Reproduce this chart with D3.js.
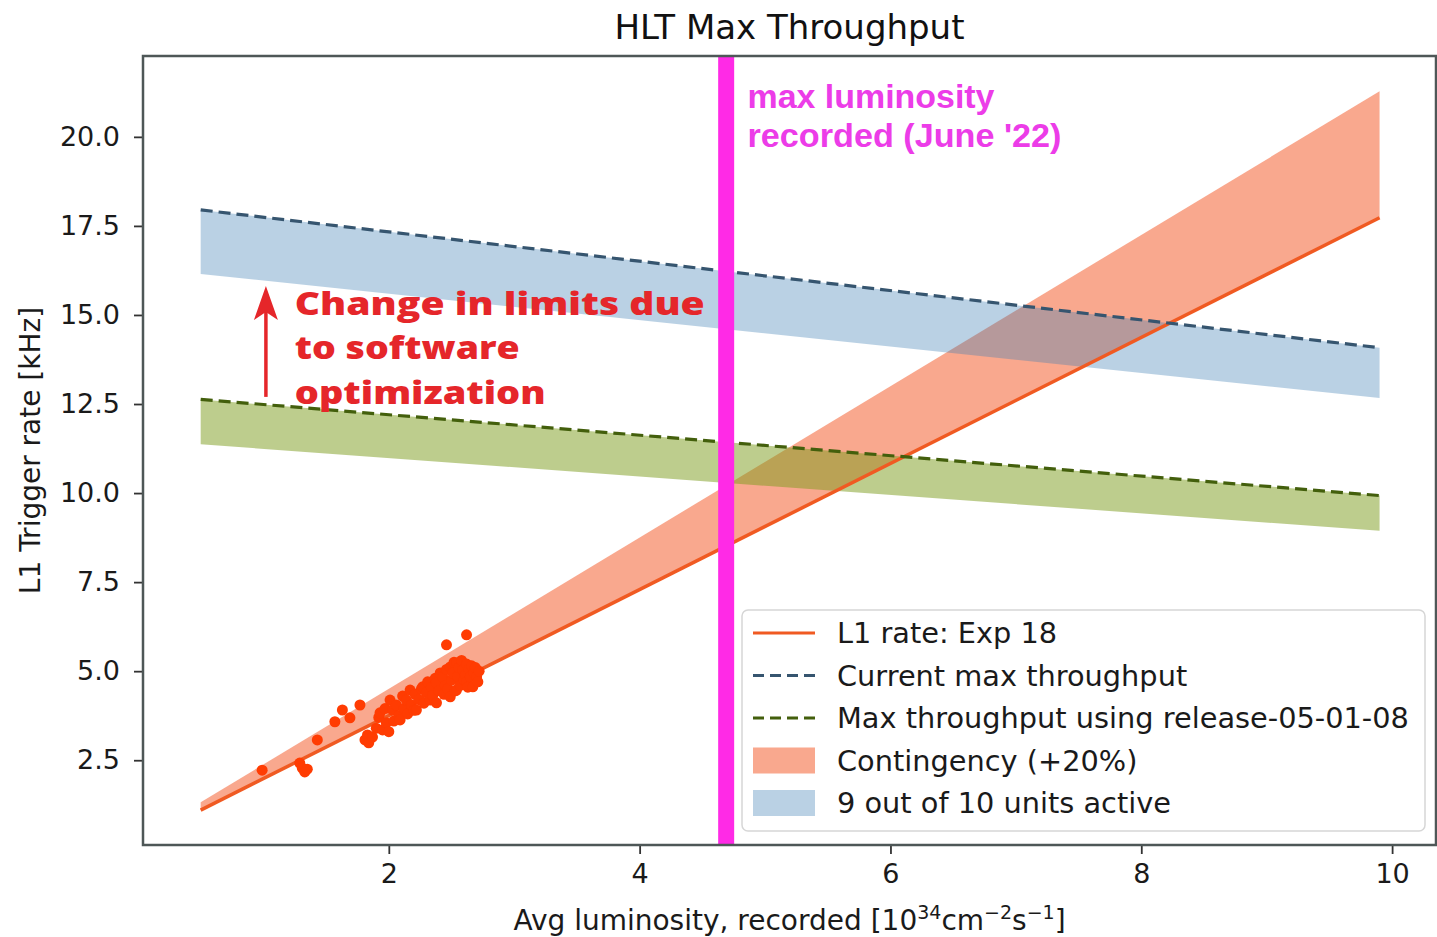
<html>
<head>
<title>HLT Max Throughput</title>
<script src="https://d3js.org/d3.v7.min.js"></script>
<style>
  body { margin: 0; background: #fff; }
  text { font-family: "DejaVu Sans", sans-serif; }
</style>
</head>
<body>
<div id="chart"></div>
<script>

// ---- data ----
var lumiRange = [0.5, 9.9];
var l1Rate = [1.1, 17.73];            // L1 rate: Exp 18
var contingencyRate = [1.32, 21.28];  // +20%
var currentMax = [17.95, 14.08];      // current max throughput
var currentMaxLow = [16.15, 12.67];   // 9 out of 10 units
var releaseMax = [12.63, 9.93];       // release-05-01-08
var releaseMaxLow = [11.37, 8.94];
var maxLumiRecorded = 4.69;

var scatterLumi = [0.99,1.29,1.31,1.33,1.35,1.43,1.57,1.63,1.69,1.77,1.81,1.83,1.84,1.87,2.46,2.62,
  1.90,1.92,1.93,1.95,1.97,1.98,2.00,2.01,2.03,2.04,2.06,2.08,2.09,2.11,2.12,2.14,2.15,2.17,2.18,2.20,
  2.21,2.22,2.24,2.26,2.27,2.28,2.30,2.31,2.33,2.34,2.35,2.37,2.38,2.38,2.40,2.41,2.43,2.44,2.45,2.46,
  2.47,2.49,2.49,2.50,2.51,2.52,2.53,2.54,2.54,2.55,2.56,2.57,2.58,2.59,2.60,2.61,2.62,2.62,2.63,2.64,
  2.65,2.66,2.67,2.68,2.69,2.70,2.71,2.72];
var scatterRate = [2.22,2.42,2.28,2.17,2.25,3.07,3.58,3.91,3.69,4.05,3.07,3.21,2.99,3.15,5.74,6.02,
  3.40,3.70,3.83,3.35,3.95,3.55,3.30,4.19,3.91,3.60,4.05,3.75,3.63,4.30,3.95,4.19,3.80,4.47,4.05,3.90,
  4.35,3.91,4.20,4.50,4.56,4.10,4.40,4.70,4.19,4.55,4.32,4.80,4.67,4.11,4.45,4.95,4.84,4.35,4.60,5.05,
  4.50,5.12,4.28,4.75,4.95,5.25,4.45,5.23,4.47,4.85,5.10,4.60,5.30,5.03,4.75,4.90,5.20,4.70,4.55,5.05,
  4.84,5.15,4.56,4.95,5.10,4.84,4.70,5.00];

var xTicks = [2, 4, 6, 8, 10];
var yTicks = [2.5, 5.0, 7.5, 10.0, 12.5, 15.0, 17.5, 20.0];
var legendLabels = ["L1 rate: Exp 18", "Current max throughput", "Max throughput using release-05-01-08",
                    "Contingency (+20%)", "9 out of 10 units active"];
var annotationLines = ["Change in limits due", "to software", "optimization"];
var lumiNoteLines = ["max luminosity", "recorded (June '22)"];

// ---- layout ----
var W = 1437, H = 937;
var margin = {top: 56, right: 1, bottom: 92, left: 143};
var width = W - margin.left - margin.right,
    height = H - margin.top - margin.bottom;

var svg = d3.select("#chart").append("svg")
  .attr("width", W)
  .attr("height", H);

var g = svg.append("g")
  .attr("transform", "translate(" + margin.left + "," + margin.top + ")");

var x = d3.scaleLinear().domain([0.04, 10.35]).range([0, width]);
var y = d3.scaleLinear().domain([0.12, 22.27]).range([height, 0]);

function pts(a) {
  return lumiRange.map(function(l, i) { return [l, a[i]]; });
}
var area = d3.area()
  .x(function(d) { return x(d[0]); })
  .y0(function(d) { return y(d[1]); })
  .y1(function(d) { return y(d[2]); });
var line = d3.line()
  .x(function(d) { return x(d[0]); })
  .y(function(d) { return y(d[1]); });

function band(lo, hi) {
  return lumiRange.map(function(l, i) { return [l, lo[i], hi[i]]; });
}

var orangeFill = "#f4511e", orangeLine = "#f05a22", dotColor = "#ff3c02";
var blueFill = "#3f7fb3", blueLine = "#36556f";
var greenFill = "#7c9c1c", greenLine = "#435f0c";

// contingency band
g.append("path")
  .attr("d", area(band(l1Rate, contingencyRate)))
  .attr("fill", orangeFill)
  .attr("fill-opacity", 0.5);

// 9 out of 10 bands
g.append("path")
  .attr("d", area(band(currentMaxLow, currentMax)))
  .attr("fill", blueFill)
  .attr("fill-opacity", 0.36);

g.append("path")
  .attr("d", area(band(releaseMaxLow, releaseMax)))
  .attr("fill", greenFill)
  .attr("fill-opacity", 0.5);

// L1 rate line
g.append("path")
  .attr("d", line(pts(l1Rate)))
  .attr("fill", "none")
  .attr("stroke", orangeLine)
  .attr("stroke-width", 3.5);

// max throughput dashed lines
g.append("path")
  .attr("d", line(pts(currentMax)))
  .attr("fill", "none")
  .attr("stroke", blueLine)
  .attr("stroke-width", 3.2)
  .attr("stroke-dasharray", "12,6");

g.append("path")
  .attr("d", line(pts(releaseMax)))
  .attr("fill", "none")
  .attr("stroke", greenLine)
  .attr("stroke-width", 3.2)
  .attr("stroke-dasharray", "12,6");

// measured points
g.selectAll("circle.pt")
  .data(scatterLumi)
  .enter().append("circle")
  .attr("class", "pt")
  .attr("cx", function(d) { return x(d); })
  .attr("cy", function(d, i) { return y(scatterRate[i]); })
  .attr("r", 5.5)
  .attr("fill", dotColor);

// max luminosity marker
g.append("line")
  .attr("x1", x(maxLumiRecorded)).attr("x2", x(maxLumiRecorded))
  .attr("y1", 0).attr("y2", height)
  .attr("stroke", "#ff2ae6")
  .attr("stroke-width", 16);

var lumiWidths = [247, 314];
g.selectAll("text.lumi")
  .data(lumiNoteLines)
  .enter().append("text")
  .attr("class", "lumi")
  .attr("x", x(4.86))
  .attr("y", function(d, i) { return y(20.81) + i * 39; })
  .attr("textLength", function(d, i) { return lumiWidths[i]; })
  .attr("lengthAdjust", "spacingAndGlyphs")
  .style("font-family", "'Liberation Sans', Arial, sans-serif")
  .style("font-weight", "bold")
  .style("font-size", "33px")
  .attr("fill", "#ec3ce8")
  .text(function(d) { return d; });

// software optimization annotation
var arrowX = x(1.02), arrowY0 = y(12.70), arrowY1 = y(15.81);
g.append("line")
  .attr("x1", arrowX).attr("x2", arrowX)
  .attr("y1", arrowY0).attr("y2", arrowY1 + 20)
  .attr("stroke", "#e5262a")
  .attr("stroke-width", 3.5);
g.append("path")
  .attr("d", "M" + arrowX + "," + arrowY1 +
             "L" + (arrowX + 12) + "," + (arrowY1 + 34) +
             "L" + arrowX + "," + (arrowY1 + 26) +
             "L" + (arrowX - 12) + "," + (arrowY1 + 34) + "Z")
  .attr("fill", "#e5262a");

var annWidths = [410, 225, 251];
g.selectAll("text.ann")
  .data(annotationLines)
  .enter().append("text")
  .attr("class", "ann")
  .attr("x", x(1.25))
  .attr("y", function(d, i) { return y(15.0) + i * 44.5; })
  .attr("textLength", function(d, i) { return annWidths[i]; })
  .attr("lengthAdjust", "spacingAndGlyphs")
  .style("font-family", "'Open Sans', 'Noto Sans', sans-serif")
  .style("font-weight", "800")
  .style("font-size", "32.5px")
  .attr("fill", "#e5262a")
  .text(function(d) { return d; });

// ---- axes ----
var xAxis = g.append("g")
  .attr("transform", "translate(0," + height + ")")
  .call(d3.axisBottom(x).tickValues(xTicks).tickSize(9).tickPadding(10).tickFormat(d3.format("d")));
var yAxis = g.append("g")
  .call(d3.axisLeft(y).tickValues(yTicks).tickSize(9).tickPadding(14).tickFormat(d3.format(".1f")));

[xAxis, yAxis].forEach(function(a) {
  a.select(".domain").remove();
  a.selectAll(".tick line").attr("stroke", "#333").attr("stroke-width", 1.8);
  a.selectAll(".tick text")
    .style("font-family", "'DejaVu Sans', sans-serif")
    .style("font-size", "27px")
    .attr("fill", "#1a1a1a");
});

// frame
g.append("rect")
  .attr("width", width)
  .attr("height", height)
  .attr("fill", "none")
  .attr("stroke", "#4e5757")
  .attr("stroke-width", 2.5);

// ---- legend ----
var legend = g.append("g")
  .attr("transform", "translate(" + (742 - margin.left) + "," + (610 - margin.top) + ")");

legend.append("rect")
  .attr("width", 683)
  .attr("height", 221)
  .attr("rx", 6)
  .attr("fill", "#fff")
  .attr("fill-opacity", 0.85)
  .attr("stroke", "#d6d6d6")
  .attr("stroke-width", 1.5);

var rowY = function(i) { return 23 + i * 42.5; };
var handles = [
  {type: "line", color: orangeLine, dash: null},
  {type: "line", color: blueLine, dash: "11,6"},
  {type: "line", color: greenLine, dash: "11,6"},
  {type: "rect", color: orangeFill, op: 0.5},
  {type: "rect", color: blueFill, op: 0.36}
];

handles.forEach(function(h, i) {
  if (h.type == "line") {
    legend.append("line")
      .attr("x1", 11).attr("x2", 73)
      .attr("y1", rowY(i)).attr("y2", rowY(i))
      .attr("stroke", h.color)
      .attr("stroke-width", 3)
      .attr("stroke-dasharray", h.dash);
  } else {
    legend.append("rect")
      .attr("x", 11).attr("y", rowY(i) - 13)
      .attr("width", 62).attr("height", 26)
      .attr("fill", h.color)
      .attr("fill-opacity", h.op);
  }
  legend.append("text")
    .attr("x", 95)
    .attr("y", rowY(i))
    .attr("dy", "0.35em")
    .style("font-size", "28.8px")
    .attr("fill", "#1a1a1a")
    .text(legendLabels[i]);
});

// ---- titles ----
svg.append("text")
  .attr("x", margin.left + width / 2)
  .attr("y", 39)
  .attr("text-anchor", "middle")
  .style("font-size", "34px")
  .attr("fill", "#111")
  .text("HLT Max Throughput");

svg.append("text")
  .attr("transform", "translate(40," + (margin.top + height / 2) + ") rotate(-90)")
  .attr("text-anchor", "middle")
  .style("font-size", "28px")
  .attr("fill", "#1a1a1a")
  .text("L1 Trigger rate [kHz]");

var xl = svg.append("text")
  .attr("x", margin.left + width / 2)
  .attr("y", 930)
  .attr("text-anchor", "middle")
  .style("font-size", "28px")
  .attr("fill", "#1a1a1a");
xl.append("tspan").text("Avg luminosity, recorded [10");
xl.append("tspan").attr("dy", -11).style("font-size", "19px").text("34");
xl.append("tspan").attr("dy", 11).text("cm");
xl.append("tspan").attr("dy", -11).style("font-size", "19px").text("\u22122");
xl.append("tspan").attr("dy", 11).text("s");
xl.append("tspan").attr("dy", -11).style("font-size", "19px").text("\u22121");
xl.append("tspan").attr("dy", 11).text("]");

</script>
</body>
</html>
